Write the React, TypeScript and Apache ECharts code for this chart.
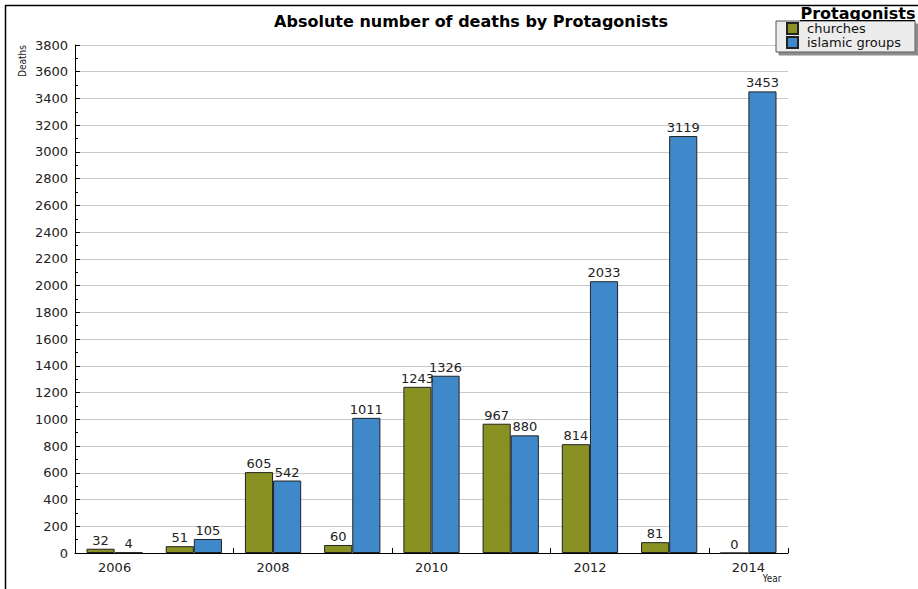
import React, { useEffect, useRef } from "react";
import * as echarts from "echarts";

const years = ["2006", "2007", "2008", "2009", "2010", "2011", "2012", "2013", "2014"];
const churches = [32, 51, 605, 60, 1243, 967, 814, 81, 0];
const islamicGroups = [4, 105, 542, 1011, 1326, 880, 2033, 3119, 3453];
const seriesNames = ["churches", "islamic groups"];
const colors = ["#8a9123", "#3f88c9"];

const FONT = "DejaVu Sans, Verdana, sans-serif";
const COND = "DejaVu Sans Condensed, DejaVu Sans, sans-serif";

export default function App() {
  const ref = useRef<HTMLDivElement>(null);
  useEffect(() => {
    if (!ref.current) return;
    const chart = echarts.init(ref.current, undefined, { renderer: "svg" });
    const labelStyle = {
      show: true,
      position: "top" as const,
      distance: 2,
      color: "#222",
      fontSize: 13,
      fontFamily: FONT,
    };
    chart.setOption({
      animation: false,
      backgroundColor: "#fff",
      textStyle: { fontFamily: FONT },
      title: {
        text: "Absolute number of deaths by Protagonists",
        left: 466,
        textAlign: "center",
        top: 8,
        textStyle: { fontSize: 16, fontWeight: "bold", color: "#000", fontFamily: FONT },
      },
      legend: {
        orient: "vertical",
        left: 776,
        top: 21,
        itemWidth: 11,
        itemHeight: 11,
        itemGap: 1,
        padding: [1, 14, 3, 10],
        backgroundColor: "#ececec",
        borderColor: "#555",
        borderWidth: 1,
        borderRadius: 0,
        shadowColor: "rgba(0,0,0,0.45)",
        shadowBlur: 0,
        shadowOffsetX: 3,
        shadowOffsetY: 3,
        icon: "rect",
        textStyle: { fontSize: 13, color: "#111", fontFamily: FONT, padding: [0, 0, 0, 4] },
        data: seriesNames,
      },
      grid: { left: 75, right: 130, top: 45, bottom: 36, containLabel: false },
      xAxis: {
        type: "category",
        data: years,
        axisLine: { lineStyle: { color: "#000", width: 1 } },
        axisTick: { show: true, inside: true, length: 5, interval: 1, lineStyle: { color: "#000" } },
        axisLabel: { interval: 1, color: "#222", fontSize: 13, margin: 8, fontFamily: FONT },
        splitLine: { show: false },
      },
      yAxis: {
        type: "value",
        min: 0,
        max: 3800,
        interval: 200,
        axisLine: { show: true, lineStyle: { color: "#000", width: 1 } },
        axisTick: { show: true, inside: true, length: 5, lineStyle: { color: "#000" } },
        minorTick: { show: true, splitNumber: 2, length: 3, lineStyle: { color: "#000" } },
        axisLabel: {
          color: "#222",
          fontSize: 13,
          margin: 7,
          fontFamily: FONT,
          formatter: (v: number) => String(v),
        },
        splitLine: { show: true, lineStyle: { color: "#c8c8c8", width: 1 } },
      },
      series: [
        {
          name: seriesNames[0],
          type: "bar",
          data: churches,
          barGap: "0%",
          barCategoryGap: "29%",
          itemStyle: { color: colors[0], borderColor: "#222", borderWidth: 1 },
          label: labelStyle,
        },
        {
          name: seriesNames[1],
          type: "bar",
          data: islamicGroups,
          barGap: "0%",
          barCategoryGap: "29%",
          itemStyle: { color: colors[1], borderColor: "#222", borderWidth: 1 },
          label: labelStyle,
        },
      ],
      graphic: [
        { type: "line", shape: { x1: 5, y1: 5.5, x2: 918, y2: 5.5 }, style: { stroke: "#000", lineWidth: 1.5 } },
        { type: "line", shape: { x1: 5.5, y1: 5, x2: 5.5, y2: 589 }, style: { stroke: "#000", lineWidth: 1.5 } },
        {
          type: "text",
          x: 22,
          y: 61,
          rotation: Math.PI / 2,
          style: {
            text: "Deaths",
            fontSize: 10,
            fontFamily: COND,
            fill: "#222",
            align: "center",
            verticalAlign: "middle",
          },
        },
        {
          type: "text",
          x: 772,
          y: 578,
          style: {
            text: "Year",
            fontSize: 10,
            fontFamily: COND,
            fill: "#222",
            align: "center",
            verticalAlign: "middle",
          },
        },
        {
          type: "text",
          x: 858,
          y: 13,
          style: {
            text: "Protagonists",
            fontSize: 16,
            fontWeight: "bold",
            fontFamily: FONT,
            fill: "#000",
            align: "center",
            verticalAlign: "middle",
          },
        },
        { type: "line", shape: { x1: 800, y1: 20.5, x2: 915, y2: 20.5 }, style: { stroke: "#000", lineWidth: 1 }, z: 10 },
      ],
    });
    return () => chart.dispose();
  }, []);
  return <div ref={ref} style={{ width: 918, height: 589, position: "absolute", left: 0, top: 0 }} />;
}
